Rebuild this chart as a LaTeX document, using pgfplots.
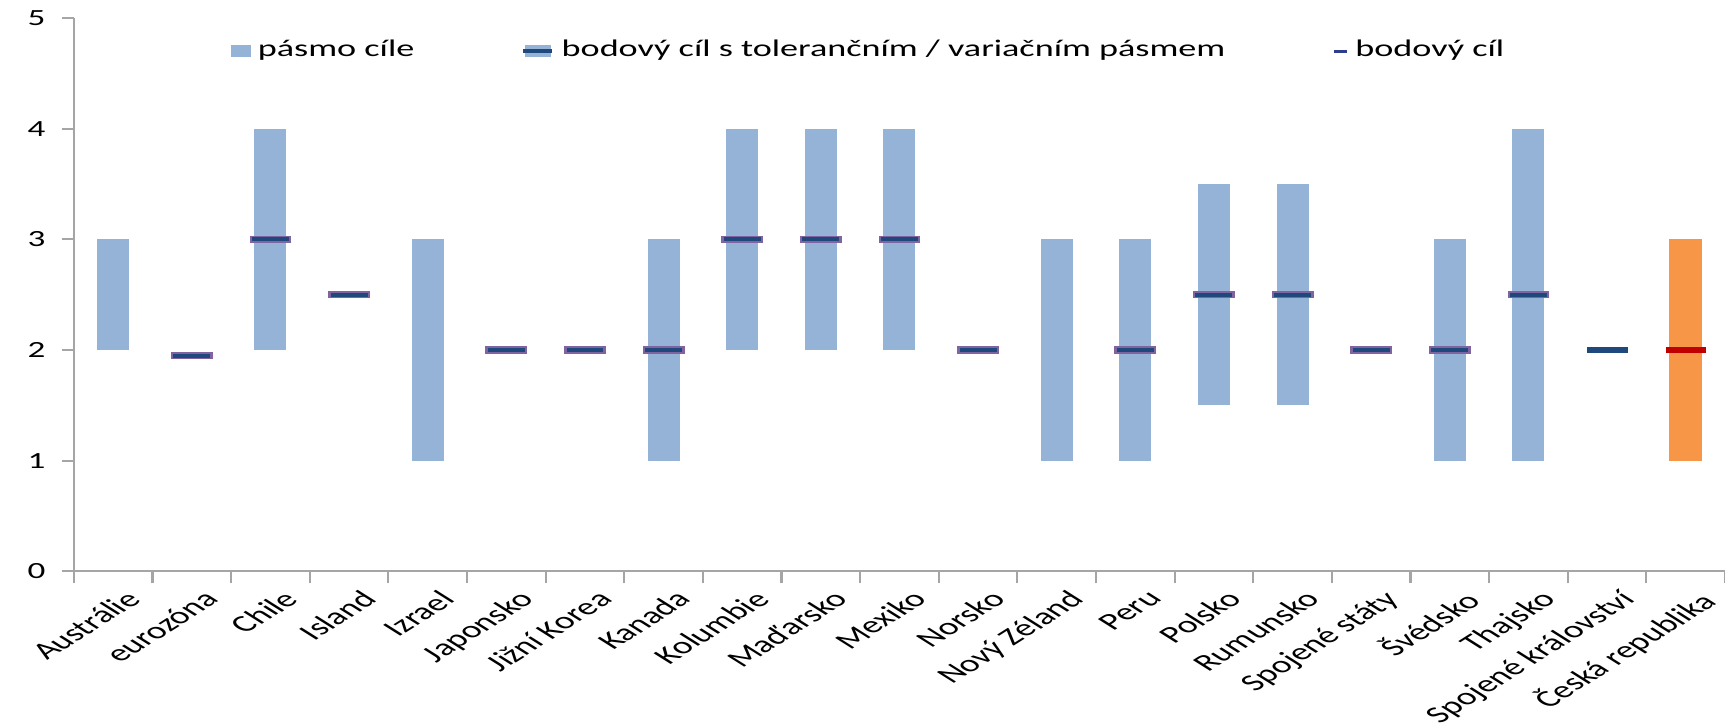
\documentclass[border=0pt]{standalone}
\usepackage{pgfplots}
\pgfplotsset{compat=1.18}
\usepackage{pgfplotstable}
\usepackage{graphicx}
\usepackage{fontspec}
\setmainfont{Carlito}
\definecolor{barblue}{RGB}{149,179,215}
\definecolor{czorange}{RGB}{247,150,70}
\definecolor{markblue}{RGB}{31,73,125}
\definecolor{markpurple}{RGB}{128,100,162}
\definecolor{czred}{RGB}{192,0,0}
\definecolor{legnavy}{RGB}{45,62,140}
\definecolor{axgray}{RGB}{165,165,165}
\newcommand\sq[1]{\scalebox{1}[0.66]{#1}}

\pgfplotstableread{
x lo hi
0 2 3
2 2 4
4 1 3
7 1 3
8 2 4
9 2 4
10 2 4
12 1 3
13 1 3
14 1.5 3.5
15 1.5 3.5
17 1 3
18 1 4
}\ranges
\pgfplotstableread{
x lo hi
20 1 3
}\czrange
\pgfplotstableread{
x y
1 1.95
2 3
3 2.5
5 2
6 2
7 2
8 3
9 3
10 3
11 2
13 2
14 2.5
15 2.5
16 2
17 2
18 2.5
}\points
\pgfplotstableread{
x y
19 2
}\ukpoint
\pgfplotstableread{
x y
20 2
}\czpoint

\begin{document}
\begin{tikzpicture}
\useasboundingbox (-0.74cm,-1.55cm) rectangle (16.53cm,5.72cm);
\begin{axis}[
  at={(0,0)}, anchor=south west,
  scale only axis, width=16.53cm, height=5.54cm,
  xmin=-0.5, xmax=20.5, ymin=0, ymax=5,
  axis lines*=left,
  axis line style={draw=axgray, line width=0.6pt},
  ytick={0,1,2,3,4,5},
  yticklabel={\sq{\pgfmathprintnumber{\tick}}},
  xtick={0,...,20},
  xticklabels={Austrálie, eurozóna, Chile, Island, Izrael, Japonsko, Jižní Korea, Kanada, Kolumbie, Maďarsko, Mexiko, Norsko, Nový Zéland, Peru, Polsko, Rumunsko, Spojené státy, Švédsko, Thajsko, Spojené království, Česká republika},
  minor xtick={-0.5,0.5,...,20.5},
  major x tick style={draw=none},
  minor x tick style={draw=axgray, line width=0.6pt},
  ytick style={draw=axgray, line width=0.6pt},
  tick align=outside,
  major tick length=1.2mm, minor tick length=1.2mm,
  /pgf/number format/assume math mode=true,
  yticklabel style={font=\fontsize{10}{12}\selectfont, anchor=east, xshift=-0.4mm},
  xticklabel style={font=\fontsize{10.7}{12}\selectfont, yscale=0.63, rotate=45, anchor=north east, inner sep=1pt, yshift=-1.0mm, xshift=0.5mm},
  legend columns=3,
  legend style={draw=none, fill=none, at={(0.483,0.94)}, anchor=center,
    font=\fontsize{10.3}{12}\selectfont,
    /tikz/every even column/.append style={column sep=1.0cm}},
]
\addlegendimage{legend image code/.code={\fill[barblue] (0mm,-0.55mm) rectangle (1.8mm,0.55mm);}}
\addlegendentry{\sq{pásmo cíle}}
\addlegendimage{legend image code/.code={\fill[barblue] (0.2mm,-0.55mm) rectangle (2.7mm,0.55mm); \draw[markblue, line width=0.45mm] (0mm,0) -- (2.9mm,0);}}
\addlegendentry{\sq{bodový cíl s tolerančním / variačním pásmem}}
\addlegendimage{legend image code/.code={\draw[legnavy, line width=0.3mm] (0mm,0) -- (1.3mm,0);}}
\addlegendentry{\sq{bodový cíl}}

\addplot[forget plot, draw=none, mark=none,
  error bars/.cd, y dir=both, y explicit, error mark=none,
  error bar style={draw=barblue, line width=3.2mm}]
  table[x=x, y expr={(\thisrow{lo}+\thisrow{hi})/2}, y error expr={(\thisrow{hi}-\thisrow{lo})/2}] {\ranges};
\addplot[forget plot, draw=none, mark=none,
  error bars/.cd, y dir=both, y explicit, error mark=none,
  error bar style={draw=czorange, line width=3.3mm}]
  table[x=x, y expr={(\thisrow{lo}+\thisrow{hi})/2}, y error expr={(\thisrow{hi}-\thisrow{lo})/2}] {\czrange};

\addplot[forget plot, only marks, mark=-, mark size=5.97pt,
  mark options={draw=markpurple, line width=2pt}] table[x=x, y=y] {\points};
\addplot[forget plot, only marks, mark=-, mark size=5.26pt,
  mark options={draw=markblue, line width=1.14pt}] table[x=x, y=y] {\points};
\addplot[forget plot, only marks, mark=-, mark size=5.83pt,
  mark options={draw=markblue, line width=1.7pt}] table[x=x, y=y] {\ukpoint};
\addplot[forget plot, only marks, mark=-, mark size=5.7pt,
  mark options={draw=czred, line width=1.6pt}] table[x=x, y=y] {\czpoint};
\end{axis}
\end{tikzpicture}
\end{document}
